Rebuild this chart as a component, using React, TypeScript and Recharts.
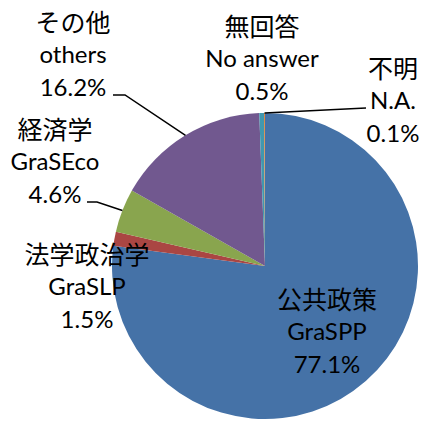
import { PieChart, Pie, Cell } from "recharts"

const jpNames = ["公共政策", "法学政治学", "経済学", "その他", "無回答", "不明"]
const enNames = ["GraSPP", "GraSLP", "GraSEco", "others", "No answer", "N.A."]
const shares = [77.1, 1.5, 4.6, 16.2, 0.5, 0.1]
const colors = ["#4572A7", "#AA4643", "#89A54E", "#71588F", "#4198AF", "#DB843D"]

const data = jpNames.map((jp, i) => ({ jp, en: enNames[i], value: shares[i] }))

// hand placed label blocks (Excel style), plus leader lines from the slice edge
const labelLayout = [
  { x: 327, y: 298 },
  { x: 87, y: 253 },
  { x: 55, y: 128, elbow: [97, 202], end: [87, 202] },
  { x: 73, y: 21, elbow: [125, 95], end: [113, 95] },
  { x: 262, y: 25 },
  { x: 393, y: 67, elbow: [366, 108], end: [366, 108] },
]

const LINE = 32.5
const RAD = Math.PI / 180

function SliceLabel(props: any) {
  const { cx, cy, midAngle, outerRadius, index } = props
  const d = data[index]
  const pos = labelLayout[index]
  let line = null
  if (pos.elbow) {
    const sx = cx + outerRadius * Math.cos(-midAngle * RAD)
    const sy = cy + outerRadius * Math.sin(-midAngle * RAD)
    line = (
      <polyline
        points={`${sx},${sy} ${pos.elbow[0]},${pos.elbow[1]} ${pos.end[0]},${pos.end[1]}`}
        fill="none"
        stroke="#000"
        strokeWidth={1.5}
      />
    )
  }
  return (
    <g>
      {line}
      <text x={pos.x} y={pos.y} textAnchor="middle" dominantBaseline="central" fill="#000"
        style={{ fontFamily: "'Noto Sans CJK JP'", fontSize: 25 }}>
        {d.jp}
      </text>
      <text x={pos.x} y={pos.y + LINE} textAnchor="middle" dominantBaseline="central" fill="#000"
        style={{ fontFamily: "Lato, 'Noto Sans'", fontSize: 24 }}>
        {d.en}
      </text>
      <text x={pos.x} y={pos.y + LINE * 2} textAnchor="middle" dominantBaseline="central" fill="#000"
        style={{ fontFamily: "Lato, 'Noto Sans'", fontSize: 24 }}>
        {d.value.toFixed(1)}%
      </text>
    </g>
  )
}

export default function App() {
  return (
    <div style={{ position: "absolute", left: 0, top: 0, width: 425, height: 423, background: "#fff" }}>
      <PieChart width={425} height={423} margin={{ top: 0, right: 0, bottom: 0, left: 0 }}>
        <Pie
          data={data}
          dataKey="value"
          nameKey="en"
          cx={265}
          cy={266}
          outerRadius={153}
          startAngle={90}
          endAngle={-270}
          stroke="none"
          label={SliceLabel}
          labelLine={false}
          isAnimationActive={false}
        >
          {data.map((d, i) => (
            <Cell key={d.en} fill={colors[i]} />
          ))}
        </Pie>
      </PieChart>
    </div>
  )
}
